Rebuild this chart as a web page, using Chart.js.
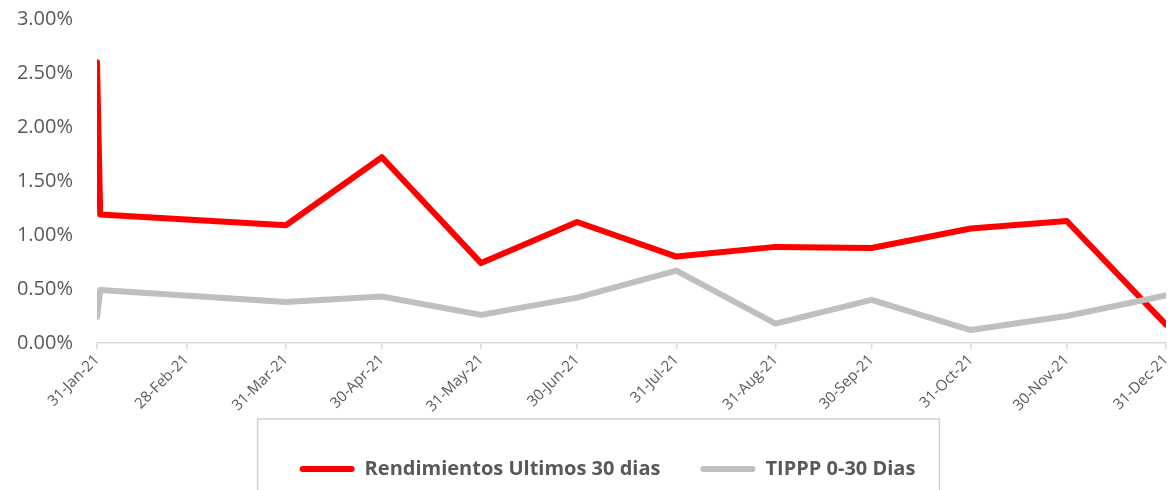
<!DOCTYPE html>
<html><head><meta charset="utf-8">
<script src="https://cdn.jsdelivr.net/npm/chart.js@4.4.1/dist/chart.umd.min.js"></script>
<style>html,body{margin:0;padding:0;background:#fff;overflow:hidden}#wrap{width:1173px;height:490px;position:relative}</style>
</head><body><div id="wrap"><canvas id="c" width="1173" height="490"></canvas></div>
<script>
const seriesNames = ['Rendimientos Ultimos 30 dias', 'TIPPP 0-30 Dias'];
const dates = ['2021-01-31','2021-02-01','2021-03-31','2021-04-30','2021-05-31','2021-06-30','2021-07-31','2021-08-31','2021-09-30','2021-10-31','2021-11-30','2021-12-31'];
const rendimientos = [2.60, 1.19, 1.09, 1.72, 0.74, 1.12, 0.80, 0.89, 0.88, 1.06, 1.13, 0.17];
const tippp = [0.24, 0.49, 0.38, 0.43, 0.26, 0.42, 0.67, 0.18, 0.40, 0.12, 0.25, 0.44];
const tickDates = ['2021-01-31','2021-02-28','2021-03-31','2021-04-30','2021-05-31','2021-06-30','2021-07-31','2021-08-31','2021-09-30','2021-10-31','2021-11-30','2021-12-31'];
const tickLabels = ['31-Jan-21','28-Feb-21','31-Mar-21','30-Apr-21','31-May-21','30-Jun-21','31-Jul-21','31-Aug-21','30-Sep-21','31-Oct-21','30-Nov-21','31-Dec-21'];
const yTicks = [0, 0.5, 1, 1.5, 2, 2.5, 3];

function dayNum(s) { const p = s.split('-').map(Number); return Date.UTC(p[0], p[1] - 1, p[2]) / 86400000; }
const tickDays = tickDates.map(dayNum);
const toPoints = vals => vals.map((v, i) => ({ x: dayNum(dates[i]), y: v }));

const FONT = "'Open Sans', 'DejaVu Sans', sans-serif";
const TXT = '#595959';

const legendShift = {
  id: 'legendShift',
  afterUpdate(chart) {
    const lg = chart.legend; if (!lg) return;
    lg.left += 49;
    if (lg.adjustHitBoxes) lg.adjustHitBoxes();
  },
  afterDraw(chart) {
    const lg = chart.legend; if (!lg || !lg.legendHitBoxes || !lg.legendHitBoxes.length) return;
    const hb = lg.legendHitBoxes; const first = hb[0], last = hb[hb.length - 1];
    const ctx = chart.ctx; ctx.save();
    ctx.strokeStyle = '#d0d0d0'; ctx.lineWidth = 1.5;
    const l = first.left - 42, r = last.left + last.width + 24, t = lg.top;
    ctx.strokeRect(l, t, r - l, 200);
    ctx.restore();
  }
};

function zeroPad(scale) { scale.paddingTop = 0; scale.paddingBottom = 0; scale.paddingLeft = 0; scale.paddingRight = 0; }

new Chart(document.getElementById('c'), {
  type: 'line',
  data: {
    datasets: [
      { label: seriesNames[0], data: toPoints(rendimientos), borderColor: '#FF0000', backgroundColor: '#FF0000', borderWidth: 6, pointRadius: 0, tension: 0, borderCapStyle: 'round', borderJoinStyle: 'round', order: 1 },
      { label: seriesNames[1], data: toPoints(tippp), borderColor: '#BFBFBF', backgroundColor: '#BFBFBF', borderWidth: 6, pointRadius: 0, tension: 0, borderCapStyle: 'round', borderJoinStyle: 'round', order: 0 }
    ]
  },
  options: {
    responsive: false, animation: false, devicePixelRatio: 1,
    layout: { padding: { left: 0, right: 7, top: 19, bottom: 1 } },
    plugins: {
      tooltip: { enabled: false },
      legend: {
        position: 'bottom',
        labels: {
          font: { family: FONT, size: 20, weight: 'bold' }, color: TXT,
          boxWidth: 55, boxHeight: 6, padding: 40, useBorderRadius: true, borderRadius: 3,
          generateLabels(chart) {
            return chart.data.datasets.map((ds, i) => ({ text: ds.label, fillStyle: ds.borderColor, strokeStyle: ds.borderColor, lineWidth: 0, datasetIndex: i, fontColor: TXT, borderRadius: 3 }));
          }
        }
      }
    },
    scales: {
      x: {
        type: 'linear', min: tickDays[0], max: tickDays[tickDays.length - 1],
        afterBuildTicks(scale) { scale.ticks = tickDays.map(v => ({ value: v })); },
        afterFit(scale) { scale.height = 76; zeroPad(scale); },
        ticks: {
          autoSkip: false, minRotation: 45, maxRotation: 45, padding: 2,
          font: { family: FONT, size: 15 }, color: TXT,
          callback(v) { const i = tickDays.indexOf(v); return i >= 0 ? tickLabels[i] : ''; }
        },
        grid: { drawOnChartArea: false, drawTicks: true, tickLength: 6, color: '#d9d9d9', lineWidth: 1.5 },
        border: { color: '#d9d9d9', width: 1.5 }
      },
      y: {
        min: 0, max: 3,
        afterBuildTicks(scale) { scale.ticks = yTicks.map(v => ({ value: v })); },
        afterFit(scale) { scale.width = 97; zeroPad(scale); },
        ticks: { padding: 24, font: { family: FONT, size: 20 }, color: TXT, callback: v => v.toFixed(2) + '%' },
        grid: { display: false, drawTicks: false },
        border: { display: false }
      }
    }
  },
  plugins: [legendShift]
});
</script></body></html>
